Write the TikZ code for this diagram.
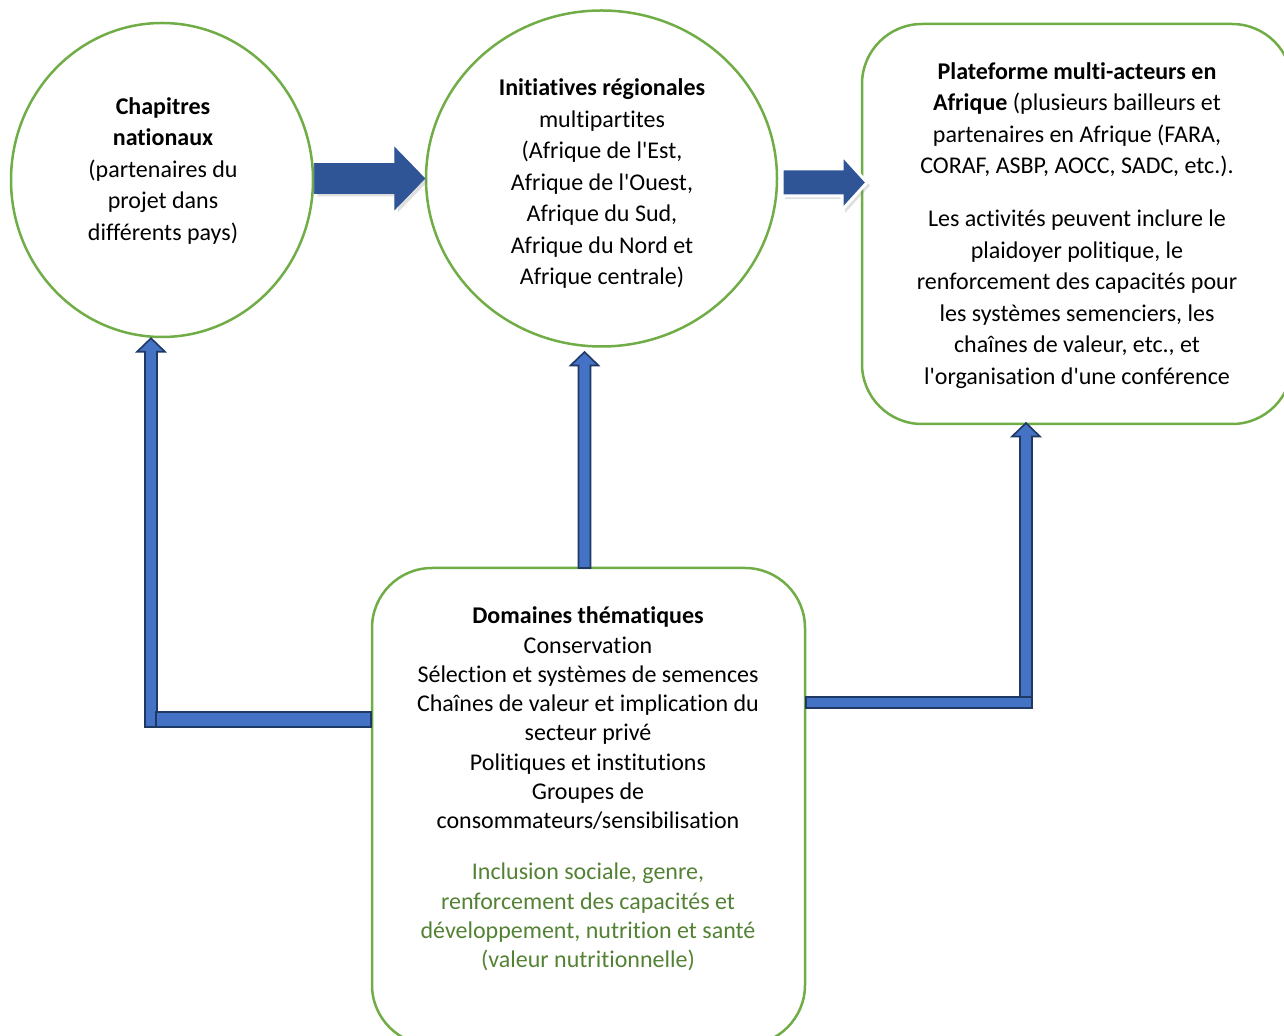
\documentclass[tikz,border=0pt]{standalone}
\usepackage{fontspec}
\setmainfont{Carlito}[Ligatures={TeXOff,NoCommon}]
\usepackage{xcolor}
\usetikzlibrary{positioning,calc,shapes.geometric,shadows}

\definecolor{ringgreen}{HTML}{70AD47}
\definecolor{textgreen}{HTML}{548235}
\definecolor{arrowdark}{HTML}{2F5597}
\definecolor{arrowfill}{HTML}{4472C4}
\definecolor{arrowedge}{HTML}{1F3864}

% fat arrow to the right: style, tail, tip, half shaft, half head, head length
\newcommand{\blockright}[6]{%
  \path[#1] let \p1=(#2), \p2=(#3) in
    (\x1,\y2+#4) -- (\x2-#6,\y2+#4) -- (\x2-#6,\y2+#5) -- (\x2,\y2)
    -- (\x2-#6,\y2-#5) -- (\x2-#6,\y2-#4) -- (\x1,\y2-#4) -- cycle;}
% thin arrow upwards: tail, tip
\newcommand{\blockup}[2]{%
  \path[thinarrow] let \p1=(#2), \p2=(#1) in
    (\x1-3pt,\y2) -- (\x1-3pt,\y1-6.75pt) -- (\x1-7pt,\y1-6.75pt) -- (\x1,\y1)
    -- (\x1+7pt,\y1-6.75pt) -- (\x1+3pt,\y1-6.75pt) -- (\x1+3pt,\y2) -- cycle;}

\begin{document}
\begin{tikzpicture}[x=0.5pt,y=-0.5pt,
  ring/.style={ellipse, draw=ringgreen, line width=1.25pt, inner sep=0pt},
  roundbox/.style={rectangle, rounded corners=30pt, draw=ringgreen, line width=1.25pt, inner sep=0pt},
  body/.style={align=center, font=\fontsize{12}{15.75}\selectfont},
  fatarrow/.style={fill=arrowdark, draw=arrowdark, line width=0.4pt, line join=miter,
    drop shadow={opacity=0.25, shadow xshift=1.5pt, shadow yshift=-1.5pt}},
  fatwhite/.style={fatarrow, draw=white, line width=1.5pt},
  thinarrow/.style={fill=arrowfill, draw=arrowedge, line width=0.8pt, line join=miter}
  ]
\useasboundingbox (0,0) rectangle (1284,1036);

% shapes
\node[ring, minimum width=151pt, minimum height=157pt] (chap) at (162,180) {};
\node[body] (chaptxt) at (163,171) {\textbf{Chapitres}\\\textbf{nationaux}\\(partenaires du\\projet dans\\différents pays)};

\node[ring, minimum width=175.5pt, minimum height=168pt] (reg) at (601.5,178.5) {};
\node[body] (regtxt) at (602,184)
  {\textbf{Initiatives régionales}\\multipartites\\(Afrique de l'Est,\\Afrique de l'Ouest,\\Afrique du Sud,\\Afrique du Nord et\\Afrique centrale)};

\node[roundbox, minimum width=215pt, minimum height=200pt] (plat) at (1077,224) {};
\node[body] (plattxt) at (1077,225.5)
  {\textbf{Plateforme multi-acteurs en}\\\textbf{Afrique} (plusieurs bailleurs et\\partenaires en Afrique (FARA,\\CORAF, ASBP, AOCC, SADC, etc.).\\[10.75pt]
   Les activités peuvent inclure le\\plaidoyer politique, le\\renforcement des capacités pour\\les systèmes semenciers, les\\chaînes de valeur, etc., et\\l'organisation d'une conférence};

\node[roundbox, minimum width=216.5pt, minimum height=238.5pt] (dom) at (588.5,806.5) {};
\node[body, font=\fontsize{12}{14.65}\selectfont] (domtxt) at (588,789)
  {\textbf{Domaines thématiques}\\Conservation\\Sélection et systèmes de semences\\Chaînes de valeur et implication du\\secteur privé\\Politiques et institutions\\Groupes de\\consommateurs/sensibilisation\\[10.85pt]
   \textcolor{textgreen}{Inclusion sociale, genre,}\\\textcolor{textgreen}{renforcement des capacités et}\\\textcolor{textgreen}{développement, nutrition et santé}\\\textcolor{textgreen}{(valeur nutritionnelle)}};

% arrow ends
\coordinate (regout) at (782,182.5);
\coordinate (platin) at (867,182.5);
\coordinate (chapfoot) at (151,727);
\coordinate (chapin) at ($(chap.south)+(-11,0)$);
\coordinate (domtop) at (584.5,568);
\coordinate (regin) at (584.5,352);
\coordinate (platfoot) at (1026,697);
\coordinate (platup) at (1026,423);

% fat arrows
\blockright{fatarrow}{chap.east}{reg.west}{7.5pt}{15.5pt}{15pt}
\blockright{fatwhite}{regout}{platin}{6.75pt}{13.75pt}{12.5pt}

% thin arrows
\blockup{chapfoot}{chapin}
\blockup{domtop}{regin}
\blockup{platfoot}{platup}
\draw[thinarrow] (156,712) rectangle (dom.west |- chapfoot);
\draw[thinarrow] (dom.east |- platfoot) rectangle (1032,708);
\end{tikzpicture}
\end{document}
